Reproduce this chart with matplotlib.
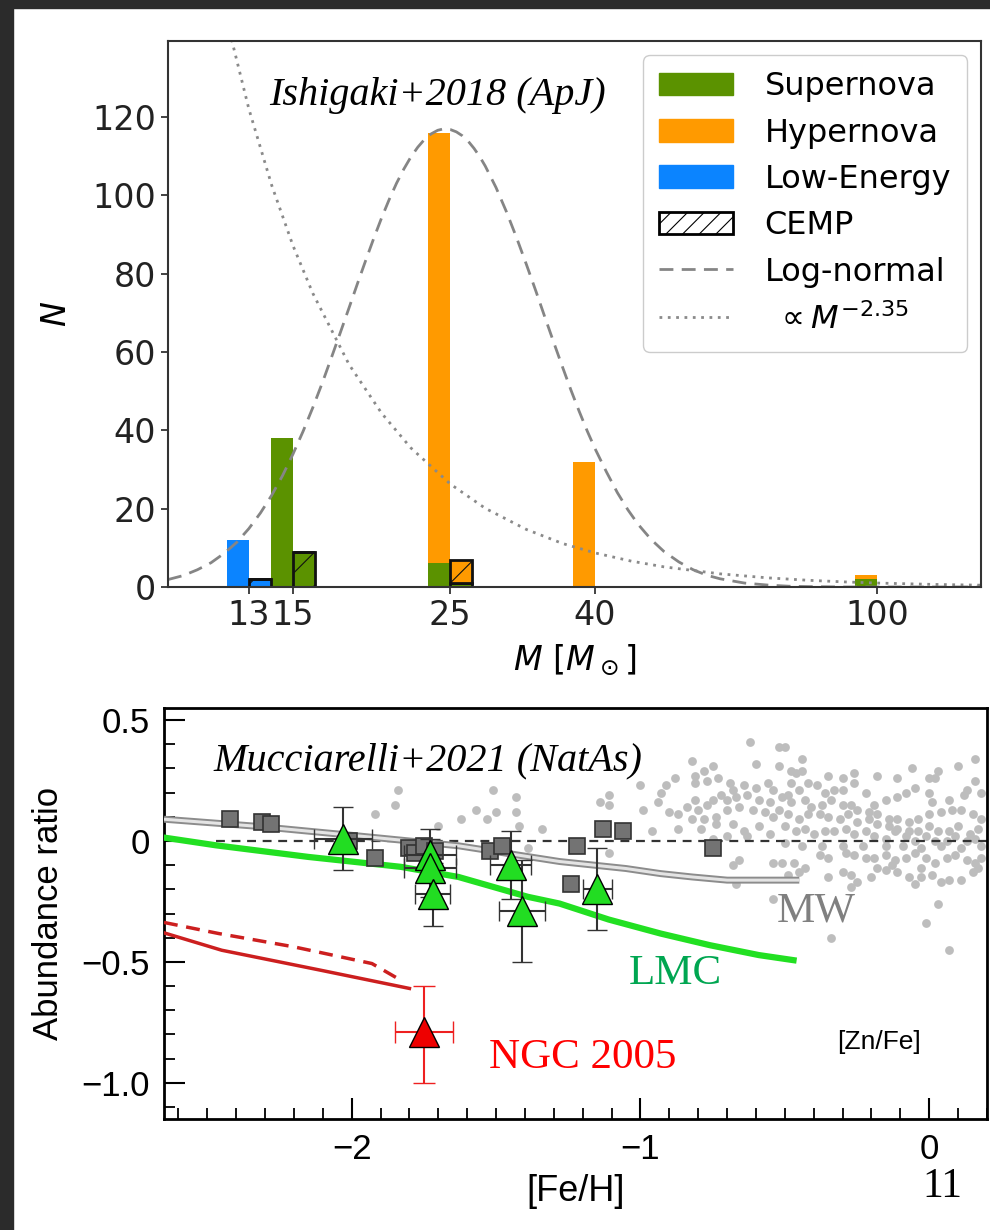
import matplotlib
matplotlib.use("Agg")
import matplotlib.pyplot as plt
import numpy as np
from matplotlib.patches import Patch, Rectangle
from matplotlib.lines import Line2D
from matplotlib.ticker import NullLocator, FixedLocator, MultipleLocator

# ---------------- top panel data (Ishigaki+2018) ----------------
masses = [13, 15, 25, 40, 100]
low_energy = [12, 0, 0, 0, 0]
supernova = [0, 38, 6, 0, 2]
hypernova = [0, 0, 110, 32, 1]
cemp_low_energy = [2, 0, 0, 0, 0]
cemp_supernova = [0, 9, 1, 0, 0]
cemp_hypernova = [0, 0, 6, 0, 0]

lognorm_m = [10, 10.5, 11, 11.5, 12, 12.5, 13, 13.5, 14, 14.5, 15, 15.5, 16, 16.5, 17, 17.5,
             18, 18.5, 19, 19.5, 20, 20.5, 21, 21.5, 22, 22.5, 23, 23.5, 24, 24.5, 25, 25.5,
             26, 26.5, 27, 27.5, 28, 29, 30, 31, 32, 33, 34, 35, 36, 37, 38, 39, 40, 41.5,
             43, 44.5, 46, 48, 50, 52.5, 55, 57.5, 60, 65, 70, 75, 80, 90, 100, 140]
lognorm_n = [1.9, 2.9, 4.4, 6.2, 8.6, 11.4, 14.9, 18.9, 23.4, 28.4, 33.9, 39.7, 45.8, 52.1,
             58.6, 65.0, 71.3, 77.5, 83.4, 89.0, 94.2, 98.9, 103.1, 106.7, 109.8, 112.3,
             114.3, 115.7, 116.6, 117.0, 116.8, 116.2, 115.2, 113.8, 112.0, 109.9, 107.5,
             102.0, 95.8, 89.2, 82.4, 75.6, 68.8, 62.3, 56.1, 50.2, 44.8, 39.8, 35.3, 29.4,
             24.1, 19.7, 16.0, 12.1, 9.1, 6.4, 4.4, 3.0, 2.1, 1.0, 0.5, 0.2, 0.1, 0.0, 0.0, 0.0]
salpeter_m = [10, 11, 12, 13, 14, 15, 16, 18, 20, 22, 25, 28, 32, 36, 40, 45, 50,
              60, 70, 80, 90, 100, 120, 140]
salpeter_n = [226, 180.9, 147.4, 122.1, 102.6, 87.2, 75.0, 56.8, 44.4, 35.5, 26.3,
              20.1, 14.7, 11.1, 8.7, 6.6, 5.15, 3.36, 2.34, 1.71, 1.30, 1.01, 0.66, 0.46]

# ---------------- bottom panel data (Mucciarelli+2021) ----------------
mw_dots_x = [
    -1.84, -1.85, -1.92, -1.70, -1.62, -1.57, -1.53, -1.51, -1.50, -1.43, -1.43, -1.42, -1.34, -1.39,
    -0.62, -0.82, -0.78, -0.75, -0.81, -0.60, -1.00, -0.93, -0.91, -0.88, -0.81, -0.77, -0.73, -0.69,
    -0.68, -0.64, -0.60, -0.56, -0.54, -1.11, -1.14, -1.11, -0.99, -0.94, -0.90, -0.87, -0.84, -0.81,
    -0.80, -0.77, -0.75, -0.72, -0.70, -0.67, -0.63, -0.59, -0.55, -0.82, -0.78, -0.74, -0.70, -0.66,
    -0.61, -0.57, -0.54, -0.96, -0.87, -0.79, -0.74, -0.68, -0.64, -0.59, -0.55, -0.63, -0.70, -0.75,
    -0.52, -0.50, -0.52, -0.44, -0.48, -0.46, -0.44, -0.35, -0.30, -0.26, -0.18, -0.11, -0.06, 0.00,
    0.02, 0.03, 0.10, 0.16, 0.16, 0.18, 0.13, 0.12, 0.07, 0.01, 0.00, -0.05, -0.08, -0.11, -0.15,
    -0.19, -0.22, -0.26, -0.30, -0.33, -0.36, -0.39, -0.42, -0.45, -0.48, -0.49, -0.51, -0.48, -0.43,
    -0.41, -0.37, -0.34, -0.30, -0.27, -0.25, -0.21, -0.18, -0.14, -0.11, -0.07, -0.04, 0.00, 0.04,
    0.08, 0.11, 0.15, 0.18, 0.17, 0.14, 0.10, 0.07, 0.03, 0.00, -0.04, -0.07, -0.11, -0.14, -0.18,
    -0.21, -0.25, -0.28, -0.31, -0.35, -0.38, -0.42, -0.45, -0.49, -0.52, -0.50, -0.46, -0.43, -0.40,
    -0.36, -0.33, -0.29, -0.26, -0.22, -0.19, -0.15, -0.12, -0.08, -0.05, -0.01, 0.02, 0.06, 0.09,
    0.13, 0.16, -0.50, -0.44, -0.37, -0.30, -0.23, -0.15, -0.09, -0.03, 0.04, 0.11, 0.18,
    -0.38, -0.35, -0.29, -0.26, -0.22, -0.19, -0.15, -0.12, -0.08, -0.05, -0.01, 0.02, 0.06, 0.09,
    0.13, 0.16, 0.18, -0.51, -0.47, -0.43, -0.45, -0.49, -0.35, -0.30, -0.27, -0.25, -0.27, -0.20,
    -0.15, -0.11, -0.07, -0.05, -0.03, 0.01, 0.04, 0.07, 0.11, 0.15, 0.17, -0.18, -0.13, -0.03,
    0.03, -0.01, -0.34, 0.07,
    -1.11, -0.68, -0.66, -0.67, -0.54, -0.54,
]
mw_dots_y = [
    0.21, 0.15, 0.11, 0.06, 0.09, 0.13, 0.09, 0.21, 0.12, 0.18, 0.12, 0.06, 0.05, -0.03,
    0.41, 0.33, 0.29, 0.31, 0.27, 0.32, 0.23, 0.20, 0.23, 0.26, 0.24, 0.25, 0.26, 0.24,
    0.21, 0.23, 0.22, 0.24, 0.21, 0.19, 0.16, 0.15, 0.13, 0.16, 0.12, 0.11, 0.14, 0.17,
    0.13, 0.15, 0.17, 0.19, 0.17, 0.18, 0.19, 0.17, 0.16, 0.09, 0.09, 0.10, 0.13, 0.14,
    0.13, 0.12, 0.10, 0.04, 0.05, 0.05, 0.07, 0.07, 0.04, 0.06, 0.03, 0.02, 0.02, 0.01,
    0.39, 0.39, 0.31, 0.34, 0.29, 0.28, 0.29, 0.27, 0.26, 0.28, 0.27, 0.26, 0.30, 0.26,
    0.26, 0.29, 0.31, 0.34, 0.25, 0.20, 0.21, 0.19, 0.17, 0.16, 0.20, 0.22, 0.20, 0.18, 0.17,
    0.15, 0.20, 0.24, 0.21, 0.21, 0.20, 0.23, 0.24, 0.21, 0.24, 0.19, 0.18, 0.16, 0.17,
    0.14, 0.15, 0.17, 0.15, 0.15, 0.13, 0.12, 0.11, 0.09, 0.09, 0.08, 0.09, 0.11, 0.12,
    0.13, 0.13, 0.11, 0.09, 0.05, 0.03, 0.06, 0.04, 0.04, 0.06, 0.04, 0.04, 0.05, 0.06, 0.07,
    0.09, 0.08, 0.11, 0.09, 0.10, 0.11, 0.11, 0.09, 0.11, 0.13, 0.06, 0.04, 0.05, 0.03,
    0.04, 0.04, 0.05, 0.03, 0.04, 0.02, 0.01, 0.04, 0.02, 0.00, 0.02, 0.00, 0.00, 0.02,
    0.00, 0.01, -0.01, -0.02, -0.02, -0.02, -0.02, -0.02, -0.02, -0.03, -0.02, -0.03, -0.02,
    -0.06, -0.07, -0.05, -0.06, -0.07, -0.07, -0.06, -0.08, -0.07, -0.05, -0.07, -0.09, -0.07, -0.06,
    -0.08, -0.09, -0.07, -0.09, -0.09, -0.11, -0.13, -0.14, -0.15, -0.13, -0.14, -0.17, -0.19, -0.15,
    -0.12, -0.13, -0.15, -0.18, -0.15, -0.14, -0.17, -0.16, -0.16, -0.13, -0.11, -0.11, -0.10, -0.11,
    -0.26, -0.34, -0.40, -0.45,
    -0.05, -0.10, -0.08, -0.18, -0.09, -0.24,
]

mw_sq_x = [-2.42, -2.31, -2.28, -2.01, -1.92, -1.80, -1.78, -1.75, -1.71, -1.52, -1.48,
           -1.24, -1.22, -1.13, -1.06, -0.75]
mw_sq_y = [0.09, 0.08, 0.07, 0.00, -0.07, -0.03, -0.05, -0.02, -0.04, -0.04, -0.02,
           -0.18, -0.02, 0.05, 0.04, -0.03]

lmc_x = [-2.03, -1.73, -1.73, -1.72, -1.45, -1.41, -1.15]
lmc_y = [0.01, -0.06, -0.11, -0.22, -0.10, -0.29, -0.20]
lmc_yerr = [0.13, 0.11, 0.12, 0.13, 0.14, 0.21, 0.17]
lmc_xerr = [0.10, 0.09, 0.09, 0.06, 0.07, 0.08, 0.05]

ngc_x = [-1.75]
ngc_y = [-0.79]
ngc_yerr_low = [0.21]
ngc_yerr_high = [0.19]
ngc_xerr = [0.10]

mw_model_x = [-2.65, -2.32, -1.97, -1.63, -1.28, -1.05, -0.93, -0.82, -0.70, -0.45]
mw_model_y = [0.09, 0.06, 0.02, -0.02, -0.085, -0.114, -0.135, -0.149, -0.162, -0.162]

lmc_model_x = [-2.65, -2.47, -2.15, -1.83, -1.63, -1.39, -1.28, -1.11, -0.93, -0.76, -0.59, -0.47]
lmc_model_y = [0.014, -0.018, -0.066, -0.107, -0.149, -0.231, -0.259, -0.325, -0.383, -0.431, -0.472, -0.493]

ngc_model_x = [-2.65, -2.45, -2.11, -1.80]
ngc_model_y = [-0.38, -0.452, -0.534, -0.61]
ngc_model2_x = [-2.65, -2.46, -2.20, -1.93, -1.83]
ngc_model2_y = [-0.337, -0.383, -0.438, -0.507, -0.576]

# ---------------- figure ----------------
fig = plt.figure(figsize=(9.9, 12.3), dpi=100)
fig.patch.set_facecolor('white')
fig.add_artist(Rectangle((0, 0), 13 / 990, 1, transform=fig.transFigure,
                         color='#2b2b2b', zorder=0))
fig.add_artist(Rectangle((0, 1 - 8 / 1230), 1, 8 / 1230, transform=fig.transFigure,
                         color='#2b2b2b', zorder=0))

green = '#5b9200'
orange = '#ff9a00'
blue = '#0b84ff'

# top panel
ax1 = fig.add_axes([168 / 990, 1 - 587 / 1230, 813 / 990, 546 / 1230])
ax1.set_xscale('log')
m = np.array(masses, dtype=float)
f = np.exp(-0.071)
w_left = m * (f - 1)        # negative width: bar sits left of the tick
w_right = m * (1 / f - 1)   # CEMP bars sit right of the tick

le = np.array(low_energy)
sn = np.array(supernova)
hn = np.array(hypernova)
ax1.bar(m, le, width=w_left, align='edge', color=blue, linewidth=0)
ax1.bar(m, sn, width=w_left, align='edge', bottom=le, color=green, linewidth=0)
ax1.bar(m, hn, width=w_left, align='edge', bottom=le + sn, color=orange, linewidth=0)

cle = np.array(cemp_low_energy)
csn = np.array(cemp_supernova)
chn = np.array(cemp_hypernova)
plt.rcParams['hatch.linewidth'] = 0.8
ax1.bar(m, cle, width=w_right, align='edge', color=blue, edgecolor='#111111',
        linewidth=2, hatch='/')
ax1.bar(m, csn, width=w_right, align='edge', bottom=cle, color=green,
        edgecolor='#111111', linewidth=2, hatch='/')
ax1.bar(m, chn, width=w_right, align='edge', bottom=cle + csn, color=orange,
        edgecolor='#111111', linewidth=2, hatch='/')

ax1.plot(lognorm_m, lognorm_n, ls=(0, (5, 3)), color='#858585', lw=2)
ax1.plot(salpeter_m, salpeter_n, ls=(0, (1, 2)), color='#8a8a8a', lw=2)

ax1.set_xlim(10, 140)
ax1.set_ylim(0, 139.4)
ax1.xaxis.set_major_locator(FixedLocator(masses))
ax1.xaxis.set_minor_locator(NullLocator())
ax1.set_xticklabels([str(v) for v in masses])
ax1.set_yticks([0, 20, 40, 60, 80, 100, 120])
ax1.tick_params(labelsize=24, length=5, width=1.2, colors='#222222')
for s in ax1.spines.values():
    s.set_color('#333333')
    s.set_linewidth(1.5)
ax1.set_ylabel(r'$N$', fontsize=24, labelpad=14)
ax1.set_xlabel(r'$M\ [M_\odot]$', fontsize=24, labelpad=8)

ax1.text(0.332, 0.901, 'Ishigaki+2018 (ApJ)', transform=ax1.transAxes,
         family='Liberation Serif', style='italic', fontsize=29,
         ha='center', va='center')

handles = [
    Patch(facecolor=green, edgecolor=green),
    Patch(facecolor=orange, edgecolor=orange),
    Patch(facecolor=blue, edgecolor=blue),
    Patch(facecolor='white', edgecolor='black', hatch='//', linewidth=2),
    Line2D([], [], ls=(0, (5, 3)), color='#858585', lw=2),
    Line2D([], [], ls=(0, (1, 2)), color='#8a8a8a', lw=2),
]
labels = ['Supernova', 'Hypernova', 'Low-Energy', 'CEMP', 'Log-normal',
          r' $\propto M^{-2.35}$']
ax1.legend(handles, labels, loc='upper right', bbox_to_anchor=(0.983, 0.974),
           borderaxespad=0, fontsize=23, labelspacing=0.48, handlelength=2.3,
           handleheight=0.7, handletextpad=1.0, borderpad=0.5,
           edgecolor='#cccccc', framealpha=1)

# bottom panel
ax2 = fig.add_axes([164 / 990, 1 - 1119 / 1230, 823 / 990, 411 / 1230])
ax2.scatter(mw_dots_x, mw_dots_y, s=40, color='#bdbdbd', linewidths=0, zorder=1)
ax2.plot([-2.47, 0.2], [0, 0], ls=(0, (4, 3)), color='#333333', lw=1.6, zorder=2)

ax2.plot(mw_model_x, mw_model_y, color='#8c8c8c', lw=5, zorder=3,
         solid_capstyle='butt')
ax2.plot(mw_model_x, mw_model_y, color='#e4e4e4', lw=2.2, zorder=3,
         solid_capstyle='butt')
ax2.plot(lmc_model_x, lmc_model_y, color='#22e022', lw=4.5, zorder=3)
ax2.plot(ngc_model_x, ngc_model_y, color='#cc1f1f', lw=2.5, zorder=3)
ax2.plot(ngc_model2_x, ngc_model2_y, color='#cc1f1f', lw=2.5, ls=(0, (4, 2.5)),
         zorder=3)

ax2.plot(mw_sq_x, mw_sq_y, 's', ms=12, mfc='#737373', mec='#333333', mew=1.2,
         ls='none', zorder=4)
ax2.errorbar(lmc_x, lmc_y, yerr=lmc_yerr, xerr=lmc_xerr, fmt='^', ms=22,
             mfc='#22dd22', mec='black', mew=1, ecolor='#333333', elinewidth=1.5,
             capsize=7, capthick=1.5, zorder=5)
ax2.errorbar(ngc_x, ngc_y, yerr=[ngc_yerr_low, ngc_yerr_high], xerr=ngc_xerr,
             fmt='^', ms=22, mfc='#ee0000', mec='black', mew=1,
             ecolor='#ee2020', elinewidth=1.5, capsize=8, capthick=1.5, zorder=5)

ax2.set_xlim(-2.65, 0.2)
ax2.set_ylim(-1.15, 0.55)
ax2.set_xticks([-2, -1, 0])
ax2.set_xticklabels(['\u22122', '\u22121', '0'])
ax2.set_yticks([-1.0, -0.5, 0, 0.5])
ax2.set_yticklabels(['\u22121.0', '\u22120.5', '0', '0.5'])
ax2.xaxis.set_minor_locator(MultipleLocator(0.1))
ax2.yaxis.set_minor_locator(MultipleLocator(0.1))
ax2.tick_params(which='major', direction='in', length=15, width=1.5,
                labelsize=25, pad=10)
ax2.tick_params(which='minor', direction='in', length=8, width=1.3)
for lab in ax2.get_xticklabels() + ax2.get_yticklabels():
    lab.set_family('Liberation Sans')
for s in ax2.spines.values():
    s.set_linewidth(2)
ax2.set_ylabel('Abundance ratio', fontsize=25, family='Liberation Sans', labelpad=12)
ax2.set_xlabel('[Fe/H]', fontsize=26, family='Liberation Sans', labelpad=6)

ax2.text(-1.737, 0.333, 'Mucciarelli+2021 (NatAs)', family='Liberation Serif',
         style='italic', fontsize=29, ha='center', va='center')
ax2.text(-0.39, -0.29, 'MW', family='Liberation Serif', fontsize=31,
         color='#808080', ha='center', va='center')
ax2.text(-0.88, -0.55, 'LMC', family='Liberation Serif', fontsize=31,
         color='#00a651', ha='center', va='center')
ax2.text(-1.2, -0.895, 'NGC 2005', family='Liberation Serif', fontsize=31,
         color='#ff0000', ha='center', va='center')
ax2.text(-0.173, -0.83, '[Zn/Fe]', family='Liberation Sans', fontsize=19,
         color='black', ha='center', va='center')

fig.text(942 / 990, 1 - 1187 / 1230, '11', family='Liberation Serif', fontsize=30,
         ha='center', va='center')

fig.savefig('out.png', dpi=100)
